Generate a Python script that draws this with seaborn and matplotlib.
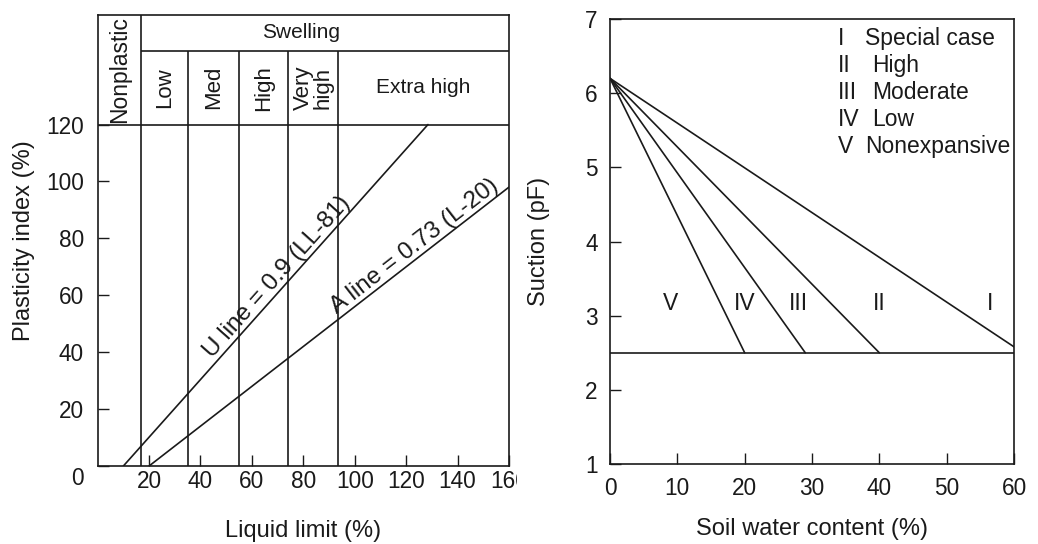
import numpy as np
import pandas as pd
import seaborn as sns
import matplotlib.pyplot as plt
from matplotlib.transforms import Bbox, TransformedBbox, ScaledTranslation

# ---- left chart: plasticity chart with swelling classes ----
ll_ticks = [20, 40, 60, 80, 100, 120, 140, 160]
pi_ticks = [0, 20, 40, 60, 80, 100, 120]
class_bounds = [17, 35, 55, 74, 93.5]          # liquid limit class boundaries
class_names = ["Low", "Med", "High", "Very\nhigh"]
header_base = 120
swelling_row = 146
header_top = 158.5
u_ll = [10, 128.5]
u_pi = [0, 120]
a_ll = [20, 160]
a_pi = [0, 98]

# ---- right chart: suction vs soil water content ----
swc_ticks = [0, 10, 20, 30, 40, 50, 60]
pf_ticks = [1, 2, 3, 4, 5, 6, 7]
origin_pf = 6.2
base_pf = 2.5
bound_end_swc = [20, 29, 40, 60]
bound_end_pf = [2.5, 2.5, 2.5, 2.58]
region_names = ["V", "IV", "III", "II", "I"]
region_swc = [9, 20, 28, 40, 56.5]
legend_num = ["I", "II", "III", "IV", "V"]
legend_desc = ["Special case", "High", "Moderate", "Low", "Nonexpansive"]

sns.set_theme(style="white")
plt.rcParams['font.family'] = ['Liberation Sans', 'DejaVu Sans']
ink = '#1a1a1a'
lw = 1.2

fig = plt.figure(figsize=(10.38, 5.44), dpi=100)
ax1 = fig.add_axes([0.0941, 0.1434, 0.3962, 0.829])
ax2 = fig.add_axes([0.5877, 0.147, 0.3892, 0.818])

# left: U and A lines
lines_df = pd.DataFrame({'LL': u_ll + a_ll, 'PI': u_pi + a_pi,
                         'line': ['U'] * len(u_ll) + ['A'] * len(a_ll)})
sns.lineplot(data=lines_df, x='LL', y='PI', units='line', estimator=None,
             color=ink, lw=lw, ax=ax1)
ax1.set_xlim(0, 160)
ax1.set_ylim(0, header_top)
ax1.vlines(class_bounds[0], 0, header_top, color=ink, lw=lw)
ax1.vlines(class_bounds[1:], 0, swelling_row, color=ink, lw=lw)
ax1.hlines(header_base, 0, 160, color=ink, lw=lw)
ax1.hlines(swelling_row, class_bounds[0], 160, color=ink, lw=lw)

ax1.text(class_bounds[0] / 2, (header_base + header_top) / 2, "Nonplastic",
         rotation=90, ha='center', va='center', fontsize=16.5, color=ink)
ax1.text(79, (swelling_row + header_top) / 2, "Swelling",
         ha='center', va='center', fontsize=15, color=ink)
for i, name in enumerate(class_names):
    xc = (class_bounds[i] + class_bounds[i + 1]) / 2
    ax1.text(xc, (header_base + swelling_row) / 2, name, rotation=90,
             ha='center', va='center', fontsize=16, color=ink,
             linespacing=0.9)
ax1.text((class_bounds[-1] + 160) / 2, (header_base + swelling_row) / 2,
         "Extra high", ha='center', va='center', fontsize=15, color=ink)


def line_label(ax, xs, ys, xpos, text):
    p0 = ax.transData.transform((xs[0], ys[0]))
    p1 = ax.transData.transform((xs[-1], ys[-1]))
    ang = np.degrees(np.arctan2(p1[1] - p0[1], p1[0] - p0[0]))
    ypos = np.interp(xpos, xs, ys)
    ax.text(xpos, ypos, text, rotation=ang, rotation_mode='anchor',
            ha='center', va='bottom', fontsize=17.5, color=ink)


line_label(ax1, u_ll, u_pi, 73, "U line = 0.9 (LL-81)")
line_label(ax1, a_ll, a_pi, 126, "A line = 0.73 (L-20)")

ax1.set_xticks(ll_ticks)
ax1.set_yticks(pi_ticks)
ax1.set_xlabel("Liquid limit (%)", fontsize=17, labelpad=19, color=ink)
ax1.set_ylabel("Plasticity index (%)", fontsize=17, labelpad=8, color=ink)
ax1.tick_params(axis='both', direction='in', length=8, width=1.0,
                color=ink, labelsize=16.3, labelcolor=ink,
                bottom=True, left=True)
ax1.tick_params(axis='x', pad=3)
ax1.tick_params(axis='y', pad=10)

# right: boundary lines from the common origin
bnd = []
for k, (xe, ye) in enumerate(zip(bound_end_swc, bound_end_pf)):
    bnd.append({'swc': 0, 'pF': origin_pf, 'b': k})
    bnd.append({'swc': xe, 'pF': ye, 'b': k})
bnd_df = pd.DataFrame(bnd)
sns.lineplot(data=bnd_df, x='swc', y='pF', units='b', estimator=None,
             color=ink, lw=lw, ax=ax2)
ax2.axhline(base_pf, color=ink, lw=lw)
ax2.set_xlim(0, 60)
ax2.set_ylim(1, 7)
for name, xr in zip(region_names, region_swc):
    ax2.text(xr, 3.17, name, ha='center', va='center', fontsize=16.5, color=ink)
for i, (num, desc) in enumerate(zip(legend_num, legend_desc)):
    yy = 6.74 - 0.365 * i
    ax2.text(33.8, yy, num, ha='left', va='center', fontsize=16.5, color=ink)
    ax2.text(37.9 if desc in ("Special case", "Nonexpansive") else 38.9, yy,
             desc, ha='left', va='center', fontsize=16.5, color=ink)

ax2.set_xticks(swc_ticks)
ax2.set_yticks(pf_ticks)
ax2.set_xlabel("Soil water content (%)", fontsize=17, labelpad=13, color=ink)
ax2.set_ylabel("Suction (pF)", fontsize=17, labelpad=25, color=ink)
ax2.tick_params(axis='both', direction='in', length=8, width=1.0,
                color=ink, labelsize=16.3, labelcolor=ink, pad=9,
                bottom=True, left=True)

for ax in (ax1, ax2):
    for sp in ax.spines.values():
        sp.set_visible(True)
        sp.set_color(ink)
        sp.set_linewidth(1.2)

# last liquid-limit label is cut off in the original
lab160 = ax1.get_xticklabels()[-1]
lab160.set_clip_box(TransformedBbox(Bbox.from_extents(0, 0, 517 / 1038, 1),
                                    fig.transFigure))
lab160.set_clip_on(True)
lab0 = ax1.get_yticklabels()[0]
lab0.set_transform(lab0.get_transform()
                   + ScaledTranslation(0, -0.10, fig.dpi_scale_trans))

fig.savefig("out.png", dpi=100)
